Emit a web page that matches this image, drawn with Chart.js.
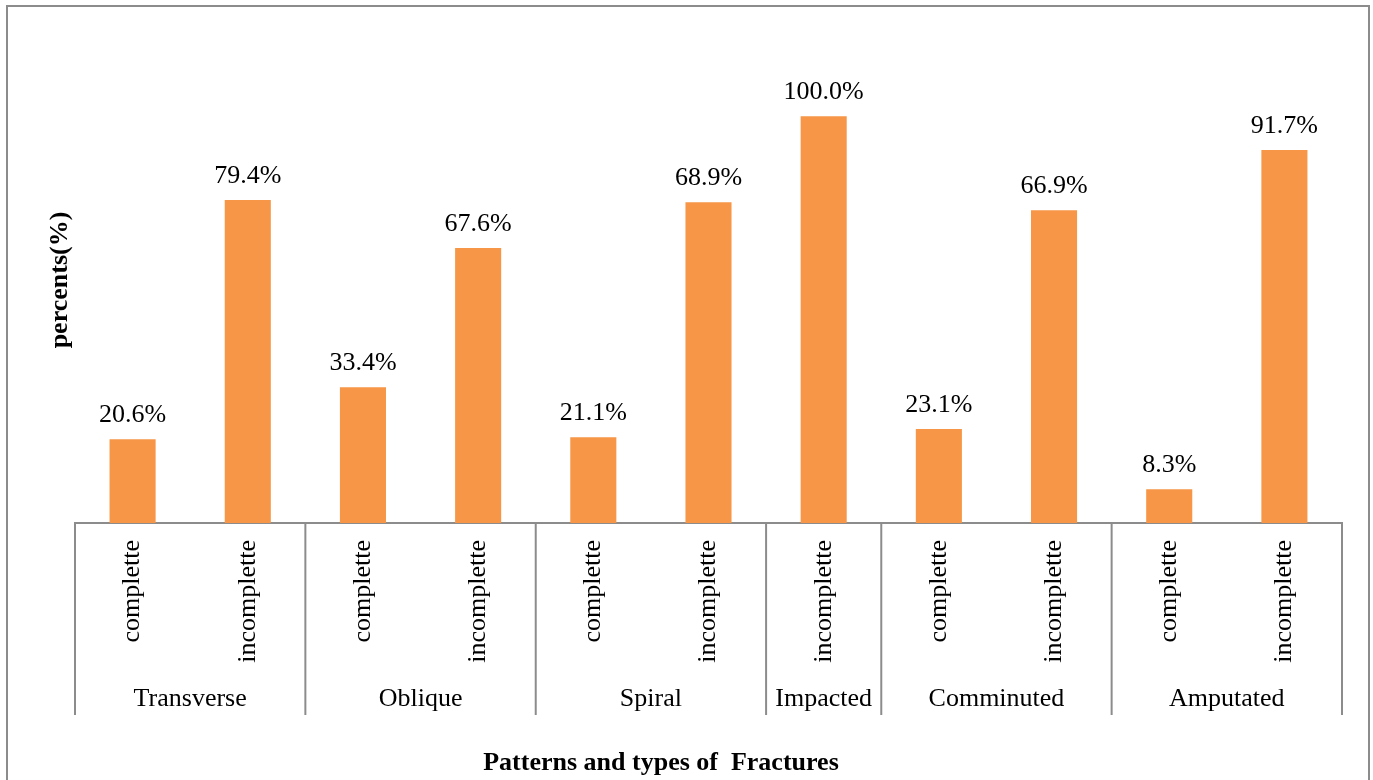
<!DOCTYPE html>
<html>
<head>
<meta charset="utf-8">
<title>Patterns and types of Fractures</title>
<script src="https://cdn.jsdelivr.net/npm/chart.js@4.4.0/dist/chart.umd.min.js"></script>
<style>
  body { margin: 0; background: #fff; }
  canvas { display: block; }
</style>
</head>
<body>
<canvas id="fractureChart" width="1373" height="780"></canvas>
<script>
// chart data
const subLabels = ['complette', 'incomplette', 'complette', 'incomplette', 'complette', 'incomplette',
                   'incomplette', 'complette', 'incomplette', 'complette', 'incomplette'];
// bar heights as drawn in the original figure
const percents = [20.6, 79.4, 33.4, 67.6, 21.1, 78.9, 100.0, 23.1, 76.9, 8.3, 91.7];
// value labels as printed above the bars (two of them differ from the bar height)
const valueLabels = ['20.6%', '79.4%', '33.4%', '67.6%', '21.1%', '68.9%', '100.0%', '23.1%', '66.9%', '8.3%', '91.7%'];
const groupNames = ['Transverse', 'Oblique', 'Spiral', 'Impacted', 'Comminuted', 'Amputated'];
const groupSizes = [2, 2, 2, 1, 2, 2];

const serif = '"Liberation Serif", "Times New Roman", serif';
const lineGrey = '#8c8c8c';

// frame, group axis, value labels and titles
const fractureAxis = {
  id: 'fractureAxis',
  beforeDraw(chart) {
    const ctx = chart.ctx;
    ctx.save();
    ctx.strokeStyle = lineGrey;
    ctx.lineWidth = 2;
    ctx.strokeRect(7, 6, 1362, 820);
    ctx.restore();
  },
  afterDraw(chart) {
    const ctx = chart.ctx;
    const x = chart.scales.x;
    const area = chart.chartArea;
    const half = (x.getPixelForValue(1) - x.getPixelForValue(0)) / 2;
    const lineBottom = 715;

    ctx.save();
    ctx.strokeStyle = lineGrey;
    ctx.lineWidth = 2;
    ctx.fillStyle = '#000';
    ctx.font = '26px ' + serif;
    ctx.textAlign = 'center';
    ctx.textBaseline = 'alphabetic';

    let start = 0;
    groupSizes.forEach((size, g) => {
      const left = x.getPixelForValue(start) - half;
      const right = x.getPixelForValue(start + size - 1) + half;
      ctx.beginPath();
      ctx.moveTo(left, area.bottom);
      ctx.lineTo(left, lineBottom);
      if (g === groupSizes.length - 1) {
        ctx.moveTo(right, area.bottom);
        ctx.lineTo(right, lineBottom);
      }
      ctx.stroke();
      ctx.fillText(groupNames[g], (left + right) / 2, 706);
      start += size;
    });

    // value labels above bars
    chart.getDatasetMeta(0).data.forEach((bar, i) => {
      ctx.fillText(valueLabels[i], bar.x, bar.y - 17);
    });

    // axis titles
    ctx.font = 'bold 26px ' + serif;
    ctx.textBaseline = 'middle';
    ctx.fillText('Patterns and types of  Fractures', 661, 763);
    ctx.translate(60, 280);
    ctx.rotate(-Math.PI / 2);
    ctx.fillText('percents(%)', 0, 0);
    ctx.restore();
  }
};

const ctx = document.getElementById('fractureChart').getContext('2d');
const fractureChart = new Chart(ctx, {
  type: 'bar',
  data: {
    labels: subLabels,
    datasets: [{
      data: percents,
      backgroundColor: '#F79646',
      borderWidth: 0,
      barPercentage: 0.4,
      categoryPercentage: 1
    }]
  },
  options: {
    responsive: false,
    animation: false,
    layout: { padding: { left: 75, right: 31, top: 35, bottom: 0 } },
    plugins: {
      legend: { display: false },
      tooltip: { enabled: false }
    },
    scales: {
      x: {
        grid: { display: false, drawTicks: false },
        border: { display: true, color: lineGrey, width: 2 },
        ticks: {
          autoSkip: false,
          minRotation: 90,
          maxRotation: 90,
          padding: 17,
          color: '#000',
          font: { family: serif, size: 26 }
        },
        afterFit(scale) {
          scale.height = 257;
        }
      },
      y: {
        display: false,
        min: 0,
        max: 120
      }
    }
  },
  plugins: [fractureAxis]
});
</script>
</body>
</html>
